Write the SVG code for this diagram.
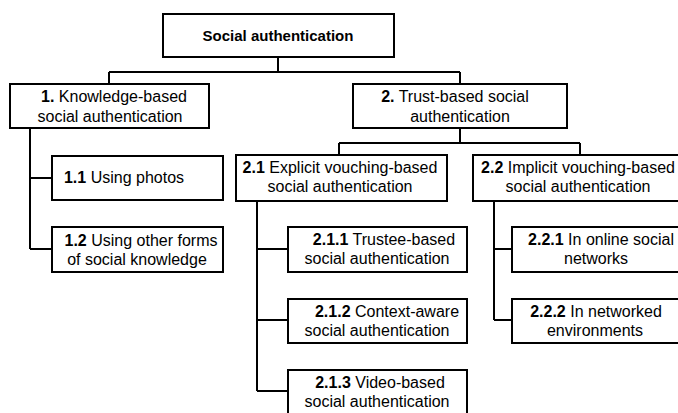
<svg xmlns="http://www.w3.org/2000/svg" width="678" height="413" viewBox="0 0 678 413">
<style>
.box{fill:#fff;stroke:#000;stroke-width:2}
.ln{fill:none;stroke:#000;stroke-width:2}
text{font-family:"Liberation Sans",Arial,sans-serif;font-size:16px;fill:#000;text-anchor:middle}
.b{font-weight:bold}
</style>
<rect width="678" height="413" fill="#fff"/>
<g id="connectors">
<path class="ln" d="M278,57 V72 M109,72 H460 M109,72 V84 M460,72 V84"/>
<path class="ln" d="M30,129 V249 M30,178 H52 M30,249 H52"/>
<path class="ln" d="M460,128 V143 M339,143 H580 M339,143 V155 M580,143 V155"/>
<path class="ln" d="M257,201 V391 M257,249 H288 M257,320 H288 M257,391 H288"/>
<path class="ln" d="M494,201 V320 M494,249 H512 M494,320 H512"/>
</g>
<g id="root">
<rect class="box" x="163" y="14" width="231" height="43"/>
<text x="278" y="41" class="b" style="font-size:15px">Social authentication</text>
</g>
<g id="n1">
<rect class="box" x="10" y="84" width="199" height="44"/>
<text x="114" y="102"><tspan class="b">1.</tspan> Knowledge-based</text>
<text x="110" y="122">social authentication</text>
</g>
<g id="n2">
<rect class="box" x="353" y="84" width="214" height="44"/>
<text x="455" y="102"><tspan class="b">2.</tspan> Trust-based social</text>
<text x="460" y="122">authentication</text>
</g>
<g id="n1_1">
<rect class="box" x="52" y="156" width="171" height="44"/>
<text x="124" y="183"><tspan class="b">1.1</tspan> Using photos</text>
</g>
<g id="n1_2">
<rect class="box" x="52" y="227" width="171" height="45"/>
<text x="141" y="246"><tspan class="b">1.2</tspan> Using other forms</text>
<text x="137" y="265">of social knowledge</text>
</g>
<g id="n2_1">
<rect class="box" x="236" y="155" width="211" height="46"/>
<text x="340" y="173"><tspan class="b">2.1</tspan> Explicit vouching-based</text>
<text x="340" y="192">social authentication</text>
</g>
<g id="n2_2">
<rect class="box" x="473" y="155" width="217" height="46"/>
<text x="578" y="173"><tspan class="b">2.2</tspan> Implicit vouching-based</text>
<text x="578" y="192">social authentication</text>
</g>
<g id="n2_1_1">
<rect class="box" x="288" y="227" width="179" height="45"/>
<text x="384" y="245"><tspan class="b">2.1.1</tspan> Trustee-based</text>
<text x="377" y="264">social authentication</text>
</g>
<g id="n2_1_2">
<rect class="box" x="288" y="299" width="179" height="44"/>
<text x="387" y="317"><tspan class="b">2.1.2</tspan> Context-aware</text>
<text x="377" y="336">social authentication</text>
</g>
<g id="n2_1_3">
<rect class="box" x="288" y="370" width="179" height="45"/>
<text x="380" y="388"><tspan class="b">2.1.3</tspan> Video-based</text>
<text x="377" y="407">social authentication</text>
</g>
<g id="n2_2_1">
<rect class="box" x="512" y="227" width="180" height="45"/>
<text x="601" y="245"><tspan class="b">2.2.1</tspan> In online social</text>
<text x="596" y="264">networks</text>
</g>
<g id="n2_2_2">
<rect class="box" x="512" y="299" width="180" height="44"/>
<text x="596" y="317"><tspan class="b">2.2.2</tspan> In networked</text>
<text x="595" y="336">environments</text>
</g>
</svg>
